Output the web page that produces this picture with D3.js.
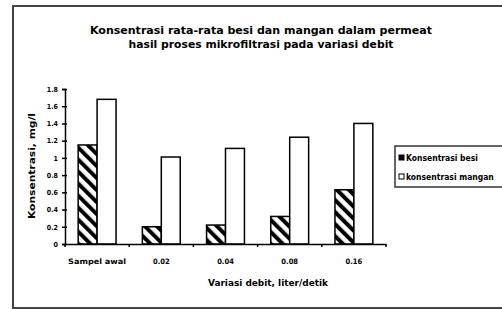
<!DOCTYPE html>
<html>
<head>
<meta charset="utf-8">
<script src="https://cdn.jsdelivr.net/npm/d3@7.9.0/dist/d3.min.js"></script>
<style>
  body { margin: 0; background: #fff; }
  text { font-family: "DejaVu Sans Condensed", "Liberation Sans", Arial, sans-serif; fill: #000; }
</style>
</head>
<body>
<svg id="chart" width="502" height="309"></svg>
<script>
const categories = ["Sampel awal", "0.02", "0.04", "0.08", "0.16"];
const besi = [1.15, 0.2, 0.22, 0.32, 0.63];
const mangan = [1.68, 1.01, 1.11, 1.24, 1.4];
const seriesNames = ["Konsentrasi besi", "konsentrasi mangan"];
const yTicks = [0, 0.2, 0.4, 0.6, 0.8, 1, 1.2, 1.4, 1.6, 1.8];

const svg = d3.select("#chart");

// hatch pattern for besi (lines going down to the right)
const defs = svg.append("defs");
const pat = defs.append("pattern")
  .attr("id", "hatch")
  .attr("patternUnits", "userSpaceOnUse")
  .attr("width", 8.5).attr("height", 8.5)
  .attr("patternTransform", "rotate(-45)");
pat.append("rect").attr("width", 8.5).attr("height", 8.5).attr("fill", "#fff");
pat.append("rect").attr("x", 0).attr("width", 4).attr("height", 8.5).attr("fill", "#000");

// outer frame
svg.append("rect")
  .attr("x", 13).attr("y", 6)
  .attr("width", 500).attr("height", 302)
  .attr("fill", "none").attr("stroke", "#444").attr("stroke-width", 2);

// title
const title = svg.append("text")
  .attr("text-anchor", "middle")
  .style("font-size", "11px").style("font-weight", "bold");
title.append("tspan").attr("x", 261).attr("y", 34)
  .attr("textLength", 342).attr("lengthAdjust", "spacingAndGlyphs")
  .text("Konsentrasi rata-rata  besi dan mangan dalam permeat");
title.append("tspan").attr("x", 261).attr("y", 48)
  .attr("textLength", 265).attr("lengthAdjust", "spacingAndGlyphs")
  .text("hasil proses mikrofiltrasi pada variasi debit");

const margin = {left: 65, top: 89, right: 386, bottom: 244};

const x = d3.scaleBand()
  .domain(categories)
  .range([margin.left, margin.right])
  .paddingInner(0.41).paddingOuter(0.205);

const y = d3.scaleLinear()
  .domain([0, 1.8])
  .range([margin.bottom, margin.top]);

const bw = x.bandwidth() / 2;

const g = svg.append("g");
g.selectAll("rect.besi")
  .data(besi)
  .join("rect")
  .attr("class", "besi")
  .attr("x", (d, i) => x(categories[i]))
  .attr("y", d => y(d))
  .attr("width", bw)
  .attr("height", d => y(0) - y(d))
  .attr("fill", "url(#hatch)")
  .attr("stroke", "#000").attr("stroke-width", 1.5);

g.selectAll("rect.mangan")
  .data(mangan)
  .join("rect")
  .attr("class", "mangan")
  .attr("x", (d, i) => x(categories[i]) + bw)
  .attr("y", d => y(d))
  .attr("width", bw)
  .attr("height", d => y(0) - y(d))
  .attr("fill", "#fff")
  .attr("stroke", "#000").attr("stroke-width", 1.5);

// y axis
const yAxis = svg.append("g")
  .attr("transform", `translate(${margin.left},0)`)
  .call(d3.axisLeft(y).tickValues(yTicks).tickSize(3).tickPadding(4).tickFormat(d3.format("")));
yAxis.select(".domain").attr("stroke", "#000").attr("stroke-width", 1.5);
yAxis.selectAll(".tick line").attr("stroke", "#000").attr("stroke-width", 1.5).attr("x2", -3).attr("x1", 2);
yAxis.selectAll("text").style("font-size", "7px").style("font-weight", "bold").attr("font-family", null);

// x axis with ticks at band boundaries
const xAxis = svg.append("g")
  .attr("transform", `translate(0,${margin.bottom})`)
  .call(d3.axisBottom(x).tickSize(0).tickPadding(15));
xAxis.select(".domain").attr("stroke", "#000").attr("stroke-width", 1.5);
xAxis.selectAll("text").style("font-size", "7.5px").style("font-weight", "bold").attr("font-family", null)
  .filter(d => d === "Sampel awal")
  .attr("textLength", 58).attr("lengthAdjust", "spacingAndGlyphs");
const step = x.step();
xAxis.selectAll("line.sep")
  .data(d3.range(categories.length + 1))
  .join("line")
  .attr("class", "sep")
  .attr("x1", i => margin.left + i * step).attr("x2", i => margin.left + i * step)
  .attr("y1", 0).attr("y2", 3)
  .attr("stroke", "#000").attr("stroke-width", 1.5);

// axis titles
svg.append("text")
  .attr("x", 268).attr("y", 286)
  .attr("text-anchor", "middle")
  .attr("textLength", 120).attr("lengthAdjust", "spacingAndGlyphs")
  .style("font-size", "8px").style("font-weight", "bold")
  .text("Variasi debit, liter/detik");

svg.append("text")
  .attr("transform", "translate(35,166) rotate(-90)")
  .attr("text-anchor", "middle")
  .attr("textLength", 106).attr("lengthAdjust", "spacingAndGlyphs")
  .style("font-size", "9px").style("font-weight", "bold")
  .text("Konsentrasi, mg/l");

// legend
const legend = svg.append("g");
legend.append("rect")
  .attr("x", 395).attr("y", 146)
  .attr("width", 120).attr("height", 41)
  .attr("fill", "#fff").attr("stroke", "#333").attr("stroke-width", 1.5);
const fills = ["#000", "#fff"];
const items = legend.selectAll("g.item")
  .data(seriesNames)
  .join("g")
  .attr("class", "item")
  .attr("transform", (d, i) => `translate(399,${155 + i * 19})`);
items.append("rect")
  .attr("width", 5).attr("height", 5)
  .attr("fill", (d, i) => fills[i])
  .attr("stroke", "#000").attr("stroke-width", 1);
items.append("text")
  .attr("x", 7).attr("y", 5.5)
  .style("font-size", "8.5px").style("font-weight", "bold")
  .text(d => d);
</script>
</body>
</html>
